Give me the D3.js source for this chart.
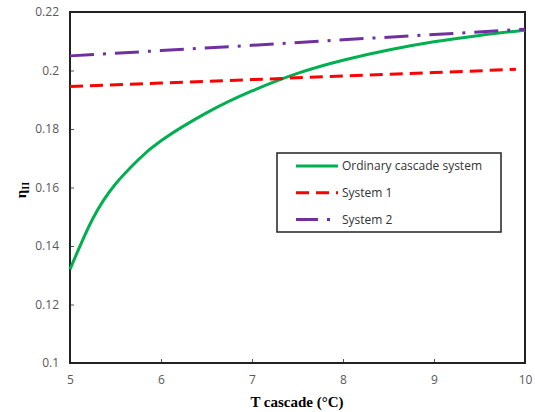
<!DOCTYPE html>
<html>
<head>
<meta charset="utf-8">
<script src="https://cdn.jsdelivr.net/npm/d3@7"></script>
<style>
  body { margin: 0; background: #fff; }
  svg { display: block; }
</style>
</head>
<body>
<div id="chart"></div>
<script>
// data
const tOrdinary = [5, 5.25, 5.5, 5.75, 6, 6.5, 7, 7.5, 8, 8.5, 9, 9.5, 10];
const etaOrdinary = [0.132, 0.1493, 0.1612, 0.1695, 0.176, 0.1855, 0.193, 0.199, 0.2035, 0.207, 0.2098, 0.212, 0.2138];
const tSystems = [5, 6, 7, 8, 9, 9.9];
const etaSystem1 = [0.1945, 0.1957, 0.1969, 0.1981, 0.1993, 0.2004];
const tSystem2 = [5, 6, 7, 8, 9, 10];
const etaSystem2 = [0.205, 0.2068, 0.2086, 0.2105, 0.2123, 0.2141];
const xTicks = [5, 6, 7, 8, 9, 10];
const yTicks = [0.1, 0.12, 0.14, 0.16, 0.18, 0.2, 0.22];
const seriesNames = ["Ordinary cascade system", "System 1", "System 2"];

const width = 535, height = 412;
const plotL = 70, plotR = 525, plotT = 12, plotB = 363;

const svg = d3.select("#chart")
    .append("svg")
    .attr("width", width)
    .attr("height", height);

const x = d3.scaleLinear().domain([5, 10]).range([plotL, plotR]);
const y = d3.scaleLinear().domain([0.1, 0.22]).range([plotB, plotT]);

// ticks point inward
const xAxis = d3.axisBottom(x).tickValues(xTicks).tickSize(-4).tickPadding(12).tickFormat(d3.format("d"));
const yAxis = d3.axisLeft(y).tickValues(yTicks).tickSize(-4).tickPadding(11).tickFormat(d => String(+d.toFixed(2)));

const gx = svg.append("g").attr("transform", `translate(0,${plotB})`).call(xAxis);
const gy = svg.append("g").attr("transform", `translate(${plotL},0)`).call(yAxis);

[gx, gy].forEach(g => {
  g.select(".domain").remove();
  g.selectAll(".tick line").attr("stroke", "#555").attr("stroke-width", 1);
  g.selectAll(".tick text")
    .attr("fill", "#595959")
    .style("font-family", "'Open Sans', sans-serif")
    .style("font-size", "12px");
});

// frame
svg.append("rect")
    .attr("x", plotL).attr("y", plotT)
    .attr("width", plotR - plotL).attr("height", plotB - plotT)
    .attr("fill", "none").attr("stroke", "#222").attr("stroke-width", 2);

const line = d3.line().x(d => x(d[0])).y(d => y(d[1]));

const series = [
  { pts: d3.zip(tOrdinary, etaOrdinary), color: "#00b050", dash: null, curve: d3.curveNatural },
  { pts: d3.zip(tSystems, etaSystem1), color: "#ff0000", dash: "13,7", curve: d3.curveLinear },
  { pts: d3.zip(tSystem2, etaSystem2), color: "#7030a0", dash: "24,9,3,9", curve: d3.curveLinear }
];

series.forEach(s => {
  svg.append("path")
    .datum(s.pts)
    .attr("fill", "none")
    .attr("stroke", s.color)
    .attr("stroke-width", 3)
    .attr("stroke-dasharray", s.dash)
    .attr("d", line.curve(s.curve));
});

// legend
const legend = svg.append("g");
legend.append("rect")
    .attr("x", 277).attr("y", 153)
    .attr("width", 224).attr("height", 79)
    .attr("fill", "#fff").attr("stroke", "#222").attr("stroke-width", 1.5);

const legendDash = [null, "13,7", "22,9,3,9"];
seriesNames.forEach((name, i) => {
  const ly = 166 + i * 26.8;
  legend.append("line")
    .attr("x1", 296).attr("x2", 338)
    .attr("y1", ly).attr("y2", ly)
    .attr("stroke", series[i].color)
    .attr("stroke-width", 3)
    .attr("stroke-dasharray", legendDash[i]);
  legend.append("text")
    .attr("x", 342).attr("y", ly)
    .attr("dy", "0.35em")
    .attr("fill", "#333")
    .style("font-family", "'Open Sans', sans-serif")
    .style("font-size", "12px")
    .text(name);
});

// axis titles
svg.append("text")
    .attr("x", 297).attr("y", 407)
    .attr("text-anchor", "middle")
    .style("font-family", "'Liberation Serif', serif")
    .style("font-weight", "bold")
    .style("font-size", "15px")
    .text("T cascade (°C)");

const yl = svg.append("text")
    .attr("transform", "translate(26,190) rotate(-90)")
    .attr("text-anchor", "middle")
    .style("font-family", "'Liberation Serif', serif")
    .style("font-weight", "bold")
    .style("font-size", "15px");
yl.append("tspan").text("η");
yl.append("tspan").attr("font-size", "10px").attr("dy", "3").text("II");
</script>
</body>
</html>
